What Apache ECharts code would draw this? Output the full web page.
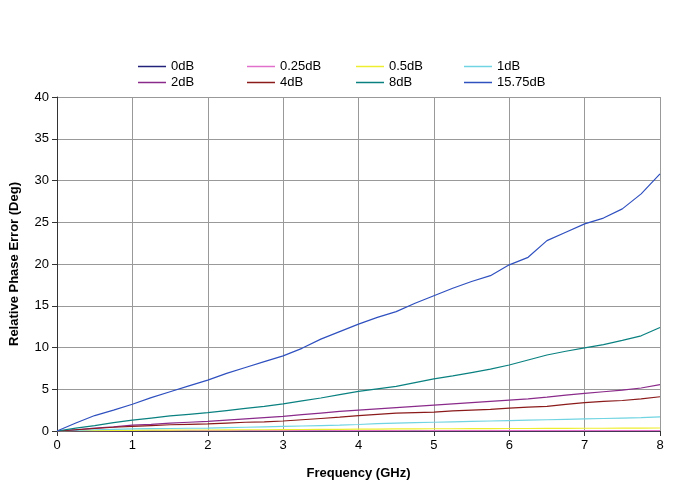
<!DOCTYPE html>
<html>
<head>
<meta charset="utf-8">
<script src="https://cdn.jsdelivr.net/npm/echarts@6/dist/echarts.min.js"></script>
<style>html,body{margin:0;padding:0;background:#fff;}#c{width:677px;height:485px;}</style>
</head>
<body>
<div id="c"></div>
<script>
var freq = [0,0.25,0.5,0.75,1,1.25,1.5,1.75,2,2.25,2.5,2.75,3,3.25,3.5,3.75,4,4.25,4.5,4.75,5,5.25,5.5,5.75,6,6.25,6.5,6.75,7,7.25,7.5,7.75,8];
var names = ['0dB','0.25dB','0.5dB','1dB','2dB','4dB','8dB','15.75dB'];
var colors = ['#22227a','#e070cc','#eeee30','#70d4e2','#8a2a8a','#8b1a1a','#0a8080','#2f50bf'];
var db0 = [0,0,0,0,0,0,0,0,0,0,0,0,0,0,0,0,0,0,0,0,0,0,0,0,0,0,0,0,0,0,0,0,0];
var db025 = [0,0.02,0.03,0.02,0.04,0.03,0.05,0.03,0.04,0.05,0.03,0.04,0.05,0.04,0.03,0.05,0.04,0.05,0.04,0.03,0.05,0.04,0.05,0.04,0.05,0.04,0.05,0.04,0.05,0.05,0.04,0.05,0.05];
var db05 = [0,0.03,0.05,0.07,0.08,0.1,0.1,0.12,0.12,0.14,0.15,0.15,0.17,0.18,0.2,0.2,0.22,0.22,0.25,0.25,0.27,0.27,0.28,0.28,0.3,0.3,0.32,0.32,0.33,0.33,0.35,0.35,0.36];
var db1 = [0,0.08,0.15,0.2,0.25,0.28,0.3,0.33,0.35,0.4,0.45,0.5,0.55,0.6,0.65,0.7,0.78,0.88,0.95,1.0,1.05,1.1,1.15,1.2,1.25,1.3,1.35,1.4,1.45,1.5,1.55,1.6,1.7];
var db2 = [0,0.15,0.35,0.5,0.7,0.8,0.95,1.05,1.15,1.3,1.45,1.6,1.75,1.95,2.15,2.35,2.5,2.65,2.8,2.95,3.1,3.25,3.4,3.55,3.7,3.85,4.05,4.3,4.5,4.7,4.9,5.15,5.55];
var db4 = [0,0.15,0.3,0.45,0.55,0.65,0.75,0.8,0.85,0.95,1.05,1.1,1.2,1.35,1.5,1.65,1.85,2.0,2.15,2.2,2.25,2.4,2.5,2.6,2.75,2.85,2.95,3.2,3.4,3.55,3.65,3.85,4.1];
var db8 = [0,0.35,0.65,1.0,1.3,1.55,1.8,2.0,2.2,2.45,2.7,2.95,3.25,3.6,3.95,4.35,4.75,5.05,5.35,5.8,6.25,6.6,7.0,7.4,7.9,8.5,9.1,9.55,9.95,10.35,10.85,11.4,12.4];
var db1575 = [0,0.95,1.85,2.5,3.2,4.0,4.7,5.4,6.1,6.9,7.6,8.3,9.0,9.9,11.0,11.9,12.8,13.6,14.3,15.3,16.2,17.1,17.9,18.6,19.9,20.8,22.8,23.8,24.8,25.5,26.6,28.4,30.8];
var values = [db0, db025, db05, db1, db2, db4, db8, db1575];
var xTicks = [0,1,2,3,4,5,6,7,8];
var yTicks = [0,5,10,15,20,25,30,35,40];

var font = 'Liberation Sans, Arial, sans-serif';
var colX = [138, 247, 356, 464];
var rowY = [59, 75];
var legends = names.map(function(n, i){
  return {
    data: [{name: n, icon: 'rect', itemStyle: {color: colors[i], borderWidth: 0}}],
    left: colX[i % 4], top: rowY[Math.floor(i / 4)],
    itemWidth: 28, itemHeight: 1.5, itemGap: 5, padding: 0,
    itemStyle: {color: colors[i], borderWidth: 0},
    lineStyle: {color: colors[i]},
    textStyle: {fontFamily: font, fontSize: 13, color: '#000', lineHeight: 15}
  };
});
var series = names.map(function(n, i){
  return {
    name: n, type: 'line', symbol: 'none', animation: false,
    color: colors[i],
    lineStyle: {width: 1.2, color: colors[i]}, itemStyle: {color: colors[i]},
    data: freq.map(function(f, k){ return [f, values[i][k]]; })
  };
});
var chart = echarts.init(document.getElementById('c'));
chart.setOption({
  animation: false,
  backgroundColor: '#fff',
  color: colors,
  legend: legends,
  grid: {left: 57, right: 17, top: 97, bottom: 52},
  xAxis: {
    type: 'value', min: xTicks[0], max: xTicks[xTicks.length-1], interval: 1,
    name: 'Frequency (GHz)', nameLocation: 'middle', nameGap: 36,
    nameTextStyle: {fontFamily: font, fontSize: 13, fontWeight: 'bold', color: '#000'},
    axisLine: {show: true, lineStyle: {color: '#333', width: 1}},
    axisTick: {show: true, length: 5, lineStyle: {color: '#333'}},
    axisLabel: {fontFamily: font, fontSize: 13, color: '#000', margin: 8},
    splitLine: {show: true, lineStyle: {color: '#999', width: 1}}
  },
  yAxis: {
    type: 'value', min: yTicks[0], max: yTicks[yTicks.length-1], interval: 5,
    name: 'Relative Phase Error (Deg)', nameLocation: 'middle', nameGap: 36, nameRotate: 90,
    nameTextStyle: {fontFamily: font, fontSize: 13, fontWeight: 'bold', color: '#000'},
    axisLine: {show: true, lineStyle: {color: '#333', width: 1}},
    axisTick: {show: true, length: 5, lineStyle: {color: '#333'}},
    axisLabel: {fontFamily: font, fontSize: 13, color: '#000', margin: 8},
    splitLine: {show: true, lineStyle: {color: '#999', width: 1}}
  },
  series: series
});
</script>
</body>
</html>
